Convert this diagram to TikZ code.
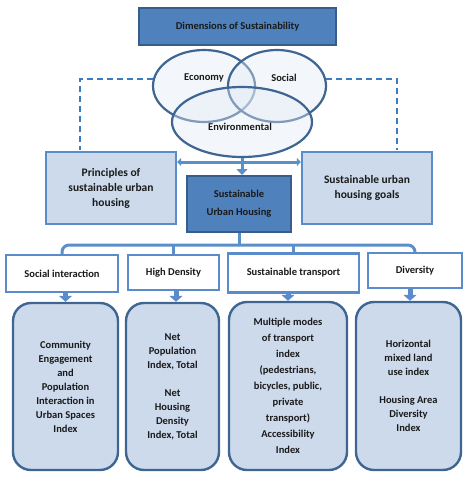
\documentclass[tikz,border=0pt]{standalone}
\usepackage{fontspec}
\setmainfont{Carlito}
\usetikzlibrary{arrows.meta,shapes.geometric}
\definecolor{dkblue}{HTML}{4F81BD}
\definecolor{edgeblue}{HTML}{385D8A}
\definecolor{ltfill}{HTML}{CCDAEC}
\definecolor{ellfill}{HTML}{E2EAF4}
\definecolor{ellline}{HTML}{3F6592}
\definecolor{linkblue}{HTML}{5B8FCC}
\definecolor{dashblue}{HTML}{3A7CC4}
\definecolor{catline}{HTML}{5A8CCB}
\definecolor{txt}{HTML}{1A1A1A}
\begin{document}
\begin{tikzpicture}[x=1pt,y=-1pt,text=txt,
  darkbox/.style={draw=edgeblue,fill=dkblue,line width=2pt,inner sep=0pt,align=center,font=\bfseries\fontsize{10.5}{12}\selectfont},
  ellnode/.style={ellipse,draw=ellline,fill=ellfill,fill opacity=0.4,line width=2.2pt,inner sep=0pt},
  elltext/.style={font=\bfseries\fontsize{10.5}{12}\selectfont,inner sep=0pt},
  pbox/.style={draw=catline,fill=ltfill,line width=2.2pt,inner sep=0pt,align=center,font=\bfseries\fontsize{11.5}{15}\selectfont},
  catbox/.style={draw=catline,fill=white,line width=2.2pt,inner sep=0pt,align=center,font=\bfseries\fontsize{10.5}{12}\selectfont},
  botbox/.style={draw=ellline,fill=ltfill,line width=2.4pt,rounded corners=18pt,inner sep=0pt,align=center,font=\bfseries\fontsize{10.5}{14}\selectfont},
  dashline/.style={draw=dashblue,line width=2pt,dash pattern=on 6pt off 4pt},
  link/.style={draw=linkblue,line width=3pt},
  downarrow/.style={draw=catline,line width=5pt,-{Triangle[width=13pt,length=6pt]}},
]
\useasboundingbox (0,0) rectangle (472,480);

% title
\node[darkbox,minimum width=197pt,minimum height=37pt] (title) at (237.5,26.5) {Dimensions of Sustainability};

% ellipses
\node[ellnode,minimum width=102pt,minimum height=72pt] (eco) at (204,86) {};
\node[ellnode,minimum width=98pt,minimum height=72pt] (soc) at (277,86) {};
\node[ellnode,minimum width=140pt,minimum height=70pt] (env) at (242,122) {};
\node[elltext] (ecot) at (204,78) {Economy};
\node[elltext] (soct) at (284,78) {Social};
\node[elltext] (envt) at (240,127) {Environmental};

% principle and goals boxes
\node[pbox,minimum width=130pt,minimum height=72pt] (prin) at (111,188) {Principles of\\sustainable urban\\housing};
\node[pbox,minimum width=130pt,minimum height=72pt] (goal) at (367,188) {Sustainable urban\\housing goals};

% dashed connectors
\coordinate (dl) at (80,150);
\coordinate (dr) at (397,150);
\coordinate (dy) at (0,79);
\draw[dashline] ([xshift=1pt]eco.west |- dy) -| (dl);
\draw[dashline] ([xshift=-1pt]soc.east |- dy) -| (dr);

% SUH
\node[darkbox,minimum width=104pt,minimum height=56pt,font=\bfseries\fontsize{10.5}{18}\selectfont] (suh) at (239,204) {Sustainable\\Urban Housing};

\draw[link,{Triangle[width=8pt,length=4pt]}-{Triangle[width=8pt,length=4pt]}] (prin.east |- 0,162) -- (goal.west |- 0,162);
\draw[link,-{Triangle[width=11pt,length=6pt]}] (env.south) -- (env.south |- suh.north);

% categories
\node[catbox,minimum width=112pt,minimum height=37pt] (soci) at (62,273.5) {Social interaction};
\node[catbox,minimum width=91pt,minimum height=35pt] (hd) at (173.5,272.5) {High Density};
\node[catbox,minimum width=131pt,minimum height=39pt] (st) at (293.5,273) {Sustainable transport};
\node[catbox,minimum width=94pt,minimum height=35pt] (div) at (415,270.5) {Diversity};

\coordinate (bar) at (0,245);
\draw[link,rounded corners=7pt] (soci.north) -- (soci.north |- bar) -- (div.north |- bar) -- (div.north);
\draw[link] (hd.north) -- (hd.north |- bar);
\draw[link] (st.north) -- (st.north |- bar);
\draw[link] (suh.south) -- (suh.south |- bar);

% bottom boxes
\node[botbox,minimum width=105pt,minimum height=167pt] (b1) at (65.5,386.5) {Community\\Engagement\\and\\Population\\Interaction in\\Urban Spaces\\Index};
\node[botbox,minimum width=93pt,minimum height=167pt] (b2) at (172.5,386.5) {Net\\Population\\Index, Total\\[14pt]Net\\Housing\\Density\\Index, Total};
\node[botbox,minimum width=118pt,minimum height=168pt,font=\bfseries\fontsize{10.5}{16}\selectfont] (b3) at (288,386) {Multiple modes\\of transport\\index\\(pedestrians,\\bicycles, public,\\private\\transport)\\Accessibility\\Index};
\node[botbox,minimum width=105pt,minimum height=168pt] (b4) at (408.5,386) {Horizontal\\mixed land\\use index\\[14pt]Housing Area\\Diversity\\Index};

\draw[downarrow] (soci.south -| b1.north) -- (b1.north);
\draw[downarrow] (hd.south -| 176,0) -- (b2.north -| 176,0);
\draw[downarrow] (st.south -| b3.north) -- (b3.north);
\draw[downarrow] (div.south -| 410,0) -- (b4.north -| 410,0);
\end{tikzpicture}
\end{document}
